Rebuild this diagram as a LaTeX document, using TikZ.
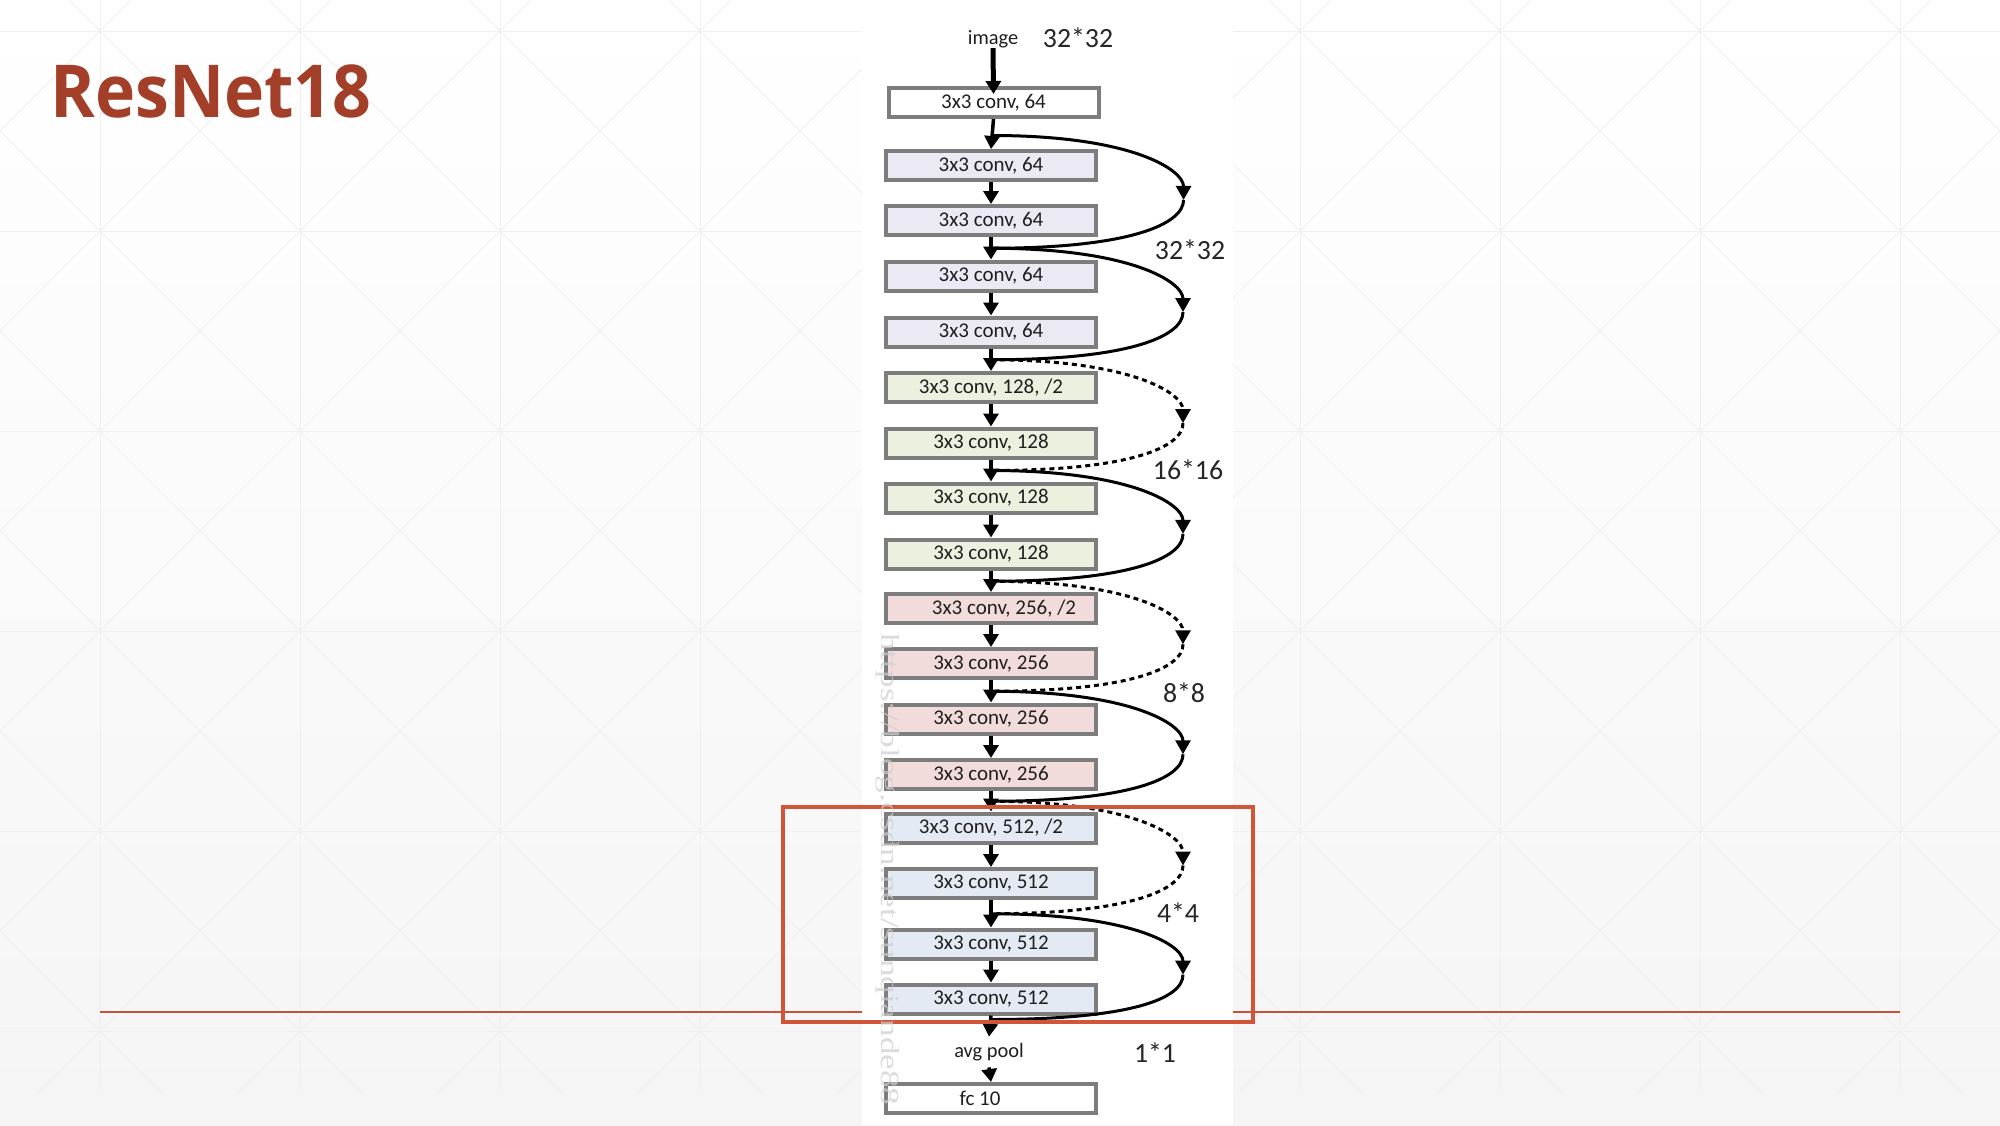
\documentclass[tikz,border=0pt]{standalone}
\usepackage{fontspec}
\setmainfont{Carlito}
\newfontfamily\titlefont{Open Sans}
\newfontfamily\wmfont{Liberation Serif}
\usetikzlibrary{arrows.meta,calc}
\definecolor{c64}{RGB}{235,233,243}
\definecolor{c128}{RGB}{235,241,222}
\definecolor{c256}{RGB}{242,220,219}
\definecolor{c512}{RGB}{228,234,244}
\definecolor{bordergray}{RGB}{125,125,125}
\definecolor{titlered}{RGB}{163,62,40}
\definecolor{framered}{RGB}{210,85,58}
\definecolor{linered}{RGB}{200,82,60}
\definecolor{gridgray}{RGB}{240,240,240}
\definecolor{bgbottom}{RGB}{245,245,245}
\definecolor{wmgray}{RGB}{205,205,205}
\begin{document}
\begin{tikzpicture}[x=0.5pt,y=-0.5pt,
  layer/.style={draw=bordergray, line width=2pt, minimum width=105pt, minimum height=14.5pt,
    inner sep=0pt, text=black!88, font=\fontsize{10.5}{12}\selectfont},
  plain/.style={inner sep=0pt, text=black!88, font=\fontsize{10.2}{12}\selectfont},
  sizelbl/.style={inner sep=0pt, text=black!85, font=\fontsize{13.9}{16}\selectfont},
  arr/.style={-{Triangle[length=6.5pt,width=7.5pt]}, line width=1.75pt},
  skiparr/.style={-{Triangle[length=7pt,width=7.5pt]}, line width=1.5pt},
  skipline/.style={line width=1.5pt},
  dsh/.style={dash pattern=on 2.5pt off 2pt}
]
\useasboundingbox (0,0) rectangle (2000,1125);
% background
\shade[top color=white, bottom color=bgbottom] (0,0) rectangle (2000,1125);
\begin{scope}
  \clip (0,0) rectangle (2000,1092);
  \foreach \j in {0,...,5} {\draw[gridgray, line width=0.5pt] (0,31+200*\j) -- (2000,31+200*\j);}
  \foreach \i in {0,...,9} {\draw[gridgray, line width=0.5pt] (100+200*\i,0) -- (100+200*\i,1125);}
  \foreach \k in {-6,...,10} {\draw[gridgray, line width=0.5pt] (69+200*\k,0) -- (69+200*\k+1200,1200);}
  \foreach \k in {0,...,16} {\draw[gridgray, line width=0.5pt] (131+200*\k,0) -- (131+200*\k-1200,1200);}
\end{scope}
\draw[linered, line width=1pt] (100,1012) -- (1900,1012);
\fill[white] (862,0) rectangle (1233,1125);
% title
\node[anchor=base west, inner sep=0pt, text=titlered, font=\titlefont\bfseries\fontsize{36.5}{40}\selectfont] (title) at (50,117) {\scalebox{0.93}[1]{ResNet18}};
% layers
\node[plain] (img) at (993,39) {image};
\node[layer, fill=white] (b1) at (993.5,102.5) {3x3 conv, 64};
\node[layer, fill=c64] (b2) at (991,165.5) {3x3 conv, 64};
\node[layer, fill=c64] (b3) at (991,220.5) {3x3 conv, 64};
\node[layer, fill=c64] (b4) at (991,276) {3x3 conv, 64};
\node[layer, fill=c64] (b5) at (991,332) {3x3 conv, 64};
\node[layer, fill=c128] (b6) at (991,387.5) {3x3 conv, 128, /2};
\node[layer, fill=c128] (b7) at (991,443) {3x3 conv, 128};
\node[layer, fill=c128] (b8) at (991,498) {3x3 conv, 128};
\node[layer, fill=c128] (b9) at (991,554) {3x3 conv, 128};
\node[layer, fill=c256] (b10) at (991,608.5) {\hspace*{13pt}3x3 conv, 256, /2};
\node[layer, fill=c256] (b11) at (991,663.5) {3x3 conv, 256};
\node[layer, fill=c256] (b12) at (991,719) {3x3 conv, 256};
\node[layer, fill=c256] (b13) at (991,774.5) {3x3 conv, 256};
\node[layer, fill=c512] (b14) at (991,828) {3x3 conv, 512, /2};
\node[layer, fill=c512] (b15) at (991,883.5) {3x3 conv, 512};
\node[layer, fill=c512] (b16) at (991,944) {3x3 conv, 512};
\node[layer, fill=c512] (b17) at (991,999) {3x3 conv, 512};
\node[plain, minimum height=15pt] (avg) at (989,1052) {avg pool};
\node[layer, fill=white] (fc) at (991,1098.5) {fc 10\hspace*{11pt}};
% size labels
\node[sizelbl] (s0) at (1078,38) {32*32};
\node[sizelbl] (s1) at (1190,250) {32*32};
\node[sizelbl] (s2) at (1188,470) {16*16};
\node[sizelbl] (s3) at (1184,693) {8*8};
\node[sizelbl] (s4) at (1178,913) {4*4};
\node[sizelbl] (s5) at (1155,1053) {1*1};
% main arrows
\draw[arr, line width=2.5pt] (img.south) -- ($(b1.north)+(0,8)$);
\foreach \a/\b in {b1/b2,b2/b3,b3/b4,b4/b5,b5/b6,b6/b7,b7/b8,b8/b9,b9/b10,b10/b11,b11/b12,b12/b13,b13/b14,b14/b15,b15/b16,b16/b17,b17/avg,avg/fc}
  {\draw[arr] (\a.south) -- (\b.north);}
% junctions
\coordinate (j1) at ($(b1.south)!0.55!(b2.north)$);
\coordinate (j2) at ($(b3.south)!0.5!(b4.north)$);
\coordinate (j3) at ($(b5.south)!0.5!(b6.north)$);
\coordinate (j4) at ($(b7.south)!0.5!(b8.north)$);
\coordinate (j5) at ($(b9.south)!0.5!(b10.north)$);
\coordinate (j6) at ($(b11.south)!0.5!(b12.north)$);
\coordinate (j7) at ($(b13.south)!0.5!(b14.north)$);
\coordinate (j8) at ($(b15.south)!0.5!(b16.north)$);
\coordinate (j9) at ($(b17.south)+(0,4)$);
% shortcuts
\foreach \a/\b/\st in {j1/j2/solid,j2/j3/solid,j3/j4/dsh,j4/j5/solid,j5/j6/dsh,j6/j7/solid,j7/j8/dsh,j8/j9/solid} {
  \coordinate (m) at ($(\a)!0.5!(\b)+(192,8)$);
  \draw[skiparr,\st] (\a) .. controls +(140,0) and +(0,-30) .. (m);
  \draw[skipline,\st] (m) .. controls +(0,24) and +(140,0) .. (\b);
}
% highlight frame
\draw[framered, line width=1.75pt] (783,807) rectangle (1253,1022);
% watermark
\node[rotate=-90, anchor=west, inner sep=0pt, text=wmgray, text opacity=0.7, font=\wmfont\fontsize{13}{13}\selectfont] (wm) at (888,633) {\scalebox{1.35}[1]{https://blog.csdn.net/sunqiande88}};
\end{tikzpicture}
\end{document}
